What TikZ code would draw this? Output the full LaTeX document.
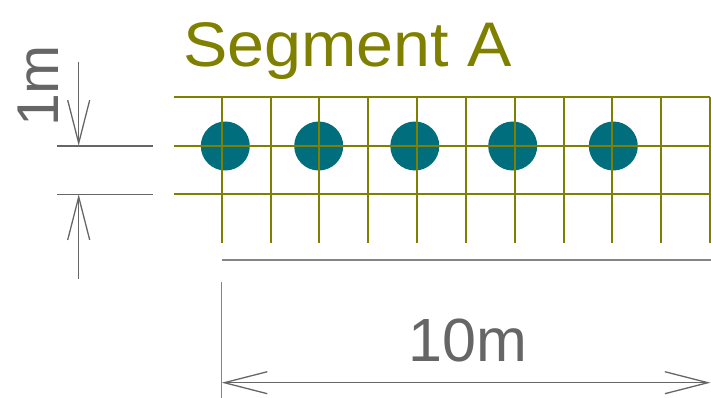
\documentclass[tikz,border=0pt]{standalone}
\usepackage{fontspec}
\setmainfont{Liberation Sans}
\usetikzlibrary{arrows.meta}
\definecolor{olivec}{HTML}{808000}
\definecolor{tealc}{HTML}{006E7C}
\definecolor{dimc}{HTML}{666666}
\tikzset{
  gridline/.style={draw=olivec, line width=2pt},
  dimline/.style={draw=dimc, line width=1.5pt},
  extline/.style={draw=dimc!80, line width=1.3pt},
  barb/.tip={Straight Barb[length=43pt,width=22pt,line width=1.3pt]},
  dimarrow/.style={dimline, -barb},
  hole/.style={circle, fill=tealc, minimum size=49pt, inner sep=0pt},
  dimtext/.style={text=dimc, font=\fontsize{61}{61}\selectfont, inner sep=0pt},
}
\begin{document}
\begin{tikzpicture}[x=1pt,y=-1pt]
\useasboundingbox (0,0) rectangle (711,398);
% circles
\foreach \n/\cx in {1/225.3,2/318.7,3/414.8,4/512.7,5/613.3}
  \node[hole] (c\n) at (\cx,146) {};
% grid
\foreach \yy in {97.3,145.8,194.3}
  \draw[gridline] (174,\yy) -- (710,\yy);
\foreach \k in {0,...,10}
  \draw[gridline] ({221.7+48.83*\k},97.3) -- ({221.7+48.83*\k},243);
% title
\node[text=olivec, font=\fontsize{63}{63}\selectfont, inner sep=0pt, anchor=base west, xscale=1.055] (title) at (183,66.7) {Segment A};
% left dimension
\coordinate (t0) at (78.7,61.7);
\coordinate (t1) at (78.7,145.8);
\coordinate (b1) at (78.7,194.3);
\coordinate (b0) at (78.7,279);
\draw[dimline] (57,145.8) -- (152.7,145.8);
\draw[dimline] (57,194.3) -- (152.7,194.3);
\draw[dimarrow] (t0) -- (t1);
\draw[dimarrow] (b0) -- (b1);
\node[dimtext, font=\fontsize{59}{59}\selectfont, rotate=90, anchor=base] (onem) at (58,86) {1m};
% bottom dimension
\draw[extline] (221.7,260) -- (711,260);
\draw[extline] (221.7,281.7) -- (221.7,398);
\coordinate (l0) at (221.7,382.7);
\coordinate (r0) at (710.5,382.7);
\draw[dimline, barb-barb] (l0) -- (r0);
\node[dimtext, anchor=base] (tenm) at (467.5,361.7) {10m};
\end{tikzpicture}
\end{document}
